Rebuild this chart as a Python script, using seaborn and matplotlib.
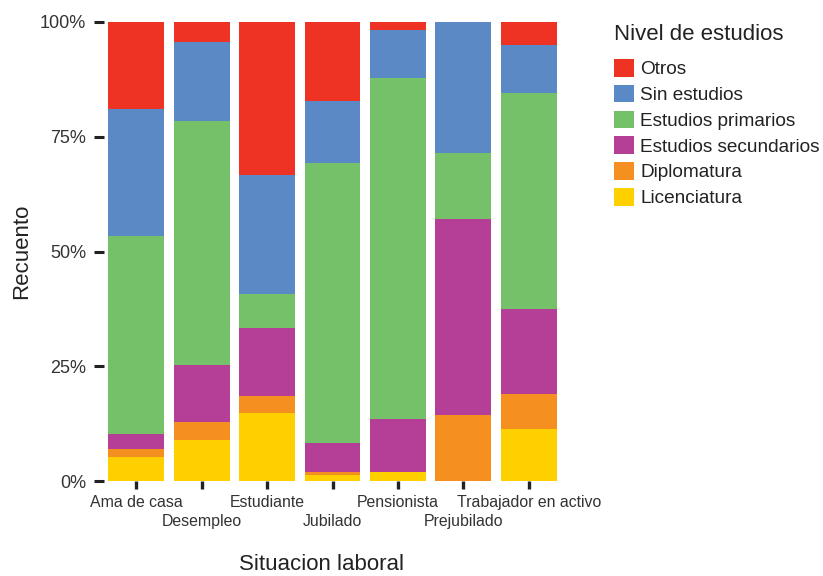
import matplotlib
matplotlib.use("Agg")
import matplotlib.pyplot as plt
from matplotlib.patches import Patch
from matplotlib.ticker import PercentFormatter
import pandas as pd
import seaborn as sns

situaciones = ["Ama de casa", "Desempleo", "Estudiante", "Jubilado", "Pensionista", "Prejubilado", "Trabajador en activo"]
niveles = ["Otros", "Sin estudios", "Estudios primarios", "Estudios secundarios", "Diplomatura", "Licenciatura"]
colores = ["#EE3224", "#5B89C6", "#75C16A", "#B53F96", "#F58F20", "#FED000"]

# percentages per situacion laboral
otros = [19.0, 4.4, 33.3, 17.2, 1.7, 0.0, 5.0]
sin_estudios = [27.6, 17.2, 25.9, 13.5, 10.5, 28.6, 10.5]
primarios = [43.2, 53.1, 7.4, 61.0, 74.3, 14.3, 47.0]
secundarios = [3.2, 12.4, 14.8, 6.3, 11.5, 42.9, 18.5]
diplomatura = [1.8, 4.0, 3.7, 0.7, 0.0, 14.3, 7.7]
licenciatura = [5.2, 8.9, 14.8, 1.3, 2.0, 0.0, 11.3]

series = [otros, sin_estudios, primarios, secundarios, diplomatura, licenciatura]
rows = []
for nivel, vals in zip(niveles, series):
    for sit, v in zip(situaciones, vals):
        rows.append({"situacion": sit, "nivel": nivel, "pct": v})
df = pd.DataFrame(rows)

sns.set_theme(style="white")
plt.rcParams["font.family"] = ["Liberation Sans", "DejaVu Sans"]

fig = plt.figure(figsize=(8.23, 5.76), dpi=100)
W, H = 823, 576
ax = fig.add_axes([104 / W, 1 - 481 / H, 457 / W, 459 / H])

sns.histplot(data=df, x="situacion", hue="nivel", weights="pct", multiple="fill", discrete=True,
             shrink=0.855, hue_order=niveles, palette=colores, alpha=1, linewidth=0, legend=False, ax=ax)

ax.set_xlim(-0.489, 6.489)
ax.set_ylim(0, 1)
ax.set_yticks([0, 0.25, 0.5, 0.75, 1])
ax.yaxis.set_major_formatter(PercentFormatter(xmax=1, decimals=0))
ax.set_xticks(range(len(situaciones)))
ax.set_xticklabels(situaciones)
sns.despine(ax=ax, left=True, bottom=True)

ax.tick_params(axis="y", left=True, length=7.2, width=2.2, color="#222222", labelsize=13, labelcolor="#333333", pad=5.8)
ax.tick_params(axis="x", bottom=True, length=5.5, width=2.4, color="#222222", labelsize=11.4, labelcolor="#333333")
for i, tick in enumerate(ax.xaxis.get_major_ticks()):
    tick.set_pad(4.4 if i % 2 == 0 else 18.6)

ax.set_xlabel("Situacion laboral", fontsize=16, color="#222222")
ax.set_ylabel("Recuento", fontsize=16, color="#222222")
ax.xaxis.set_label_coords(0.475, -0.159)
ax.yaxis.set_label_coords(-0.158, 0.5)

fig.text(614 / W, 1 - 24 / H, "Nivel de estudios", fontsize=16, color="#222222", ha="left", va="top")
handles = [Patch(facecolor=c, edgecolor="none", label=n) for n, c in zip(niveles, colores)]
fig.legend(handles=handles, loc="upper left", bbox_to_anchor=(614 / W, 1 - 59 / H), frameon=False,
           fontsize=13.7, handlelength=1.05, handleheight=1.05, handletextpad=0.32, labelspacing=0.34,
           borderpad=0, borderaxespad=0, labelcolor="#222222")

fig.savefig("out.png", dpi=100)
